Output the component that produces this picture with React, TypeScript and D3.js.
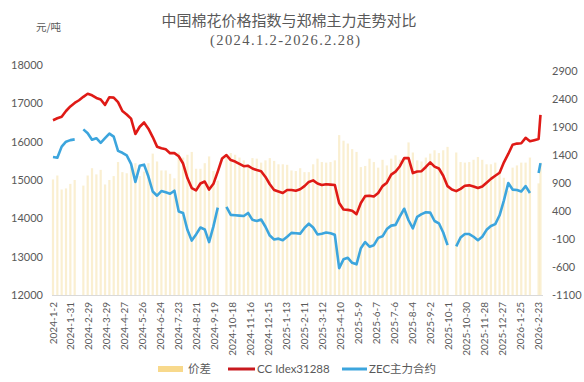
import React from "react";
import * as d3 from "d3";

const dates = [
  "2024-01-02","2024-01-09","2024-01-16","2024-01-23","2024-01-30","2024-02-06","2024-02-13","2024-02-20","2024-02-27","2024-03-05",
  "2024-03-12","2024-03-19","2024-03-26","2024-04-02","2024-04-09","2024-04-16","2024-04-23","2024-04-30","2024-05-07","2024-05-14",
  "2024-05-21","2024-05-28","2024-06-04","2024-06-11","2024-06-18","2024-06-25","2024-07-02","2024-07-09","2024-07-16","2024-07-23",
  "2024-07-30","2024-08-06","2024-08-13","2024-08-20","2024-08-27","2024-09-03","2024-09-10","2024-09-17","2024-09-24","2024-10-01",
  "2024-10-08","2024-10-15","2024-10-22","2024-10-29","2024-11-05","2024-11-12","2024-11-19","2024-11-26","2024-12-03","2024-12-10",
  "2024-12-17","2024-12-24","2024-12-31","2025-01-07","2025-01-14","2025-01-21","2025-01-28","2025-02-04","2025-02-11","2025-02-18",
  "2025-02-25","2025-03-04","2025-03-11","2025-03-18","2025-03-25","2025-04-01","2025-04-08","2025-04-15","2025-04-22","2025-04-29",
  "2025-05-06","2025-05-13","2025-05-20","2025-05-27","2025-06-03","2025-06-10","2025-06-17","2025-06-24","2025-07-01","2025-07-08",
  "2025-07-15","2025-07-22","2025-07-29","2025-08-05","2025-08-12","2025-08-19","2025-08-26","2025-09-02","2025-09-09","2025-09-16",
  "2025-09-23","2025-09-30","2025-10-07","2025-10-14","2025-10-21","2025-10-28","2025-11-04","2025-11-11","2025-11-18","2025-11-25",
  "2025-12-02","2025-12-09","2025-12-16","2025-12-23","2025-12-30","2026-01-06","2026-01-13","2026-01-20","2026-01-27","2026-02-03",
  "2026-02-10","2026-02-17","2026-02-24","2026-02-27"
];

const ccIndex = [
  16560,16610,16650,16800,16920,17010,17080,17170,17250,17210,
  17140,17100,16960,17160,17150,17030,16800,16710,16600,16200,
  16390,16500,16340,16120,15870,15830,15800,15700,15700,15620,
  15430,15050,14790,14730,14910,14960,14750,14900,15220,15560,
  15650,15520,15480,15420,15360,15370,15300,15260,15230,15080,
  14890,14740,14700,14660,14740,14740,14720,14760,14840,14950,
  14990,14910,14870,14890,14880,14870,14400,14230,14220,14200,
  14110,14400,14580,14590,14570,14660,14840,14930,15140,15220,
  15360,15570,15570,15180,15220,15230,15340,15460,15350,15300,
  15110,14840,14750,14710,14770,14850,14860,14830,14790,14830,
  14930,15030,15110,15190,15460,15680,15920,15950,15960,16100,
  16010,16040,16070,16700
];

const zecMain: (number | null)[] = [
  15600,15580,15870,16000,16040,16060,null,16320,16220,16050,
  16090,15970,16090,16210,16130,15760,15710,15640,15420,14950,
  15370,15400,15090,14700,14590,14710,14680,14640,14720,14180,
  14140,13700,13420,13580,13760,13710,13380,13790,14280,null,
  14300,14090,14080,14070,14060,14140,13960,13930,13970,13780,
  13550,13450,13470,13430,13520,13620,13610,13600,13750,13860,
  13760,13580,13600,13630,13610,13570,12700,12930,12970,12840,
  12800,13220,13380,13260,13300,13490,13530,13720,13810,13830,
  14050,14250,13950,13740,14040,14110,14160,14150,13930,13870,
  13630,13300,null,13270,13500,13590,13590,13520,13430,13520,
  13700,13800,13850,14080,14470,14920,14750,14740,14700,14840,
  14660,null,15180,15440
];

const spread: (number | null)[] = [
  960,1030,780,800,880,950,null,850,1030,1160,
  1050,1130,870,950,1020,1270,1090,1070,1180,1250,
  1020,1100,1250,1420,1280,1120,1120,1060,980,1440,
  1350,1400,1450,1150,1150,1250,1370,1110,940,null,
  1350,1430,1400,1350,1300,1230,1340,1330,1260,1300,
  1340,1290,1230,1230,1220,1120,1110,1160,1090,1090,
  1230,1330,1270,1260,1270,1300,1750,1650,1600,1500,
  1450,1180,1200,1330,1270,1170,1310,1210,1330,1390,
  1310,1320,1620,1440,1300,1280,1350,1420,1480,1430,
  1480,1540,null,1440,1270,1260,1270,1310,1360,1310,
  1230,1230,1260,1110,990,760,1170,1210,1260,1260,
  1350,null,890,1260
];

const tickLabels = [
  "2024-1-2","2024-1-31","2024-2-29","2024-3-29","2024-4-27","2024-5-26","2024-6-24","2024-7-23",
  "2024-8-21","2024-9-19","2024-10-18","2024-11-16","2024-12-15","2025-1-13","2025-2-11","2025-3-12",
  "2025-4-10","2025-5-9","2025-6-7","2025-7-6","2025-8-4","2025-9-2","2025-10-1","2025-10-30",
  "2025-11-28","2025-12-27","2026-1-25","2026-2-23"
];

const leftTicks = [12000, 13000, 14000, 15000, 16000, 17000, 18000];
const rightTicks = [-1100, -600, -100, 400, 900, 1400, 1900, 2400, 2900];

const W = 584, H = 382;
const parse = d3.timeParse("%Y-%m-%d");

export default function App() {
  const x = d3.scaleTime()
    .domain([parse("2024-01-02")!, parse("2026-02-23")!])
    .range([53, 538]);
  const yL = d3.scaleLinear().domain([12000, 18000]).range([295, 65]);
  const yR = d3.scaleLinear().domain([-1100, 3000]).range([295, 65]);
  const ds = dates.map((d) => parse(d)!);

  const ccLine = d3.line<number>()
    .x((_, i) => x(ds[i]))
    .y((v) => yL(v));
  const zecLine = d3.line<number | null>()
    .defined((v) => v != null)
    .x((_, i) => x(ds[i]))
    .y((v) => yL(v as number));

  const font = "Lato, 'Noto Sans CJK SC', sans-serif";
  const txt = "#595959";
  const red = "#DF1A16";
  const blue = "#3CA5DD";
  const barW = 2.2;

  return (
    <div style={{ position: "fixed", left: 0, top: 0 }}>
      <svg width={W} height={H} style={{ display: "block", background: "#fff" }}>
        <text x={289} y={26} textAnchor="middle" fontFamily="'Noto Sans CJK SC', sans-serif" fontSize={15} fill={txt}>
          中国棉花价格指数与郑棉主力走势对比
        </text>
        <text x={285} y={45} textAnchor="middle" fontFamily="'Liberation Serif', serif" fontSize={14.5} fill={txt}
          textLength={150} lengthAdjust="spacing">
          (2024.1.2-2026.2.28)
        </text>
        <text x={36} y={31} fontFamily="'Noto Sans CJK SC', sans-serif" fontSize={10.5} fill={txt}>元/吨</text>

        {/* bars */}
        <g>
          {spread.map((v, i) =>
            v == null ? null : (
              <rect key={i} x={x(ds[i]) - barW / 2} y={yR(v)} width={barW}
                height={yR(-1100) - yR(v)} fill="#F5DFA4" opacity={0.5} />
            )
          )}
        </g>

        <line x1={52} x2={543} y1={295.5} y2={295.5} stroke="#D9D9D9" strokeWidth={1} />

        <path d={ccLine(ccIndex) || ""} fill="none" stroke={red} strokeWidth={2.6} strokeLinejoin="round" />
        <path d={zecLine(zecMain) || ""} fill="none" stroke={blue} strokeWidth={2.6} strokeLinejoin="round" />

        {/* left axis */}
        {leftTicks.map((t) => (
          <text key={t} x={43} y={yL(t) + 4} textAnchor="end" fontFamily={font} fontSize={11} fill={txt}>{t}</text>
        ))}
        {/* right axis */}
        {rightTicks.map((t) => (
          <text key={t} x={552} y={yR(t) + 4} textAnchor="start" fontFamily={font} fontSize={11} fill={txt}>{t}</text>
        ))}
        {/* x labels */}
        {tickLabels.map((l) => {
          const [yy, mm, dd] = l.split("-");
          const dt = parse(`${yy}-${mm.padStart(2, "0")}-${dd.padStart(2, "0")}`)!;
          const px = x(dt);
          return (
            <text key={l} transform={`translate(${px + 3.5},302) rotate(-90)`} textAnchor="end"
              fontFamily={font} fontSize={10} fill={txt}>{l}</text>
          );
        })}

        {/* legend */}
        <rect x={158} y={366} width={25} height={6} fill="#F8D98C" />
        <text x={188} y={373} fontFamily={font} fontSize={11.5} fill={txt}>价差</text>
        <line x1={228} x2={255} y1={369} y2={369} stroke="#C8191E" strokeWidth={3} />
        <text x={257} y={373} fontFamily={font} fontSize={11.5} fill={txt}>CC Idex31288</text>
        <line x1={342} x2={367} y1={369} y2={369} stroke={blue} strokeWidth={3} />
        <text x={369} y={373} fontFamily={font} fontSize={11.5} fill={txt}>ZEC主力合约</text>
      </svg>
    </div>
  );
}
